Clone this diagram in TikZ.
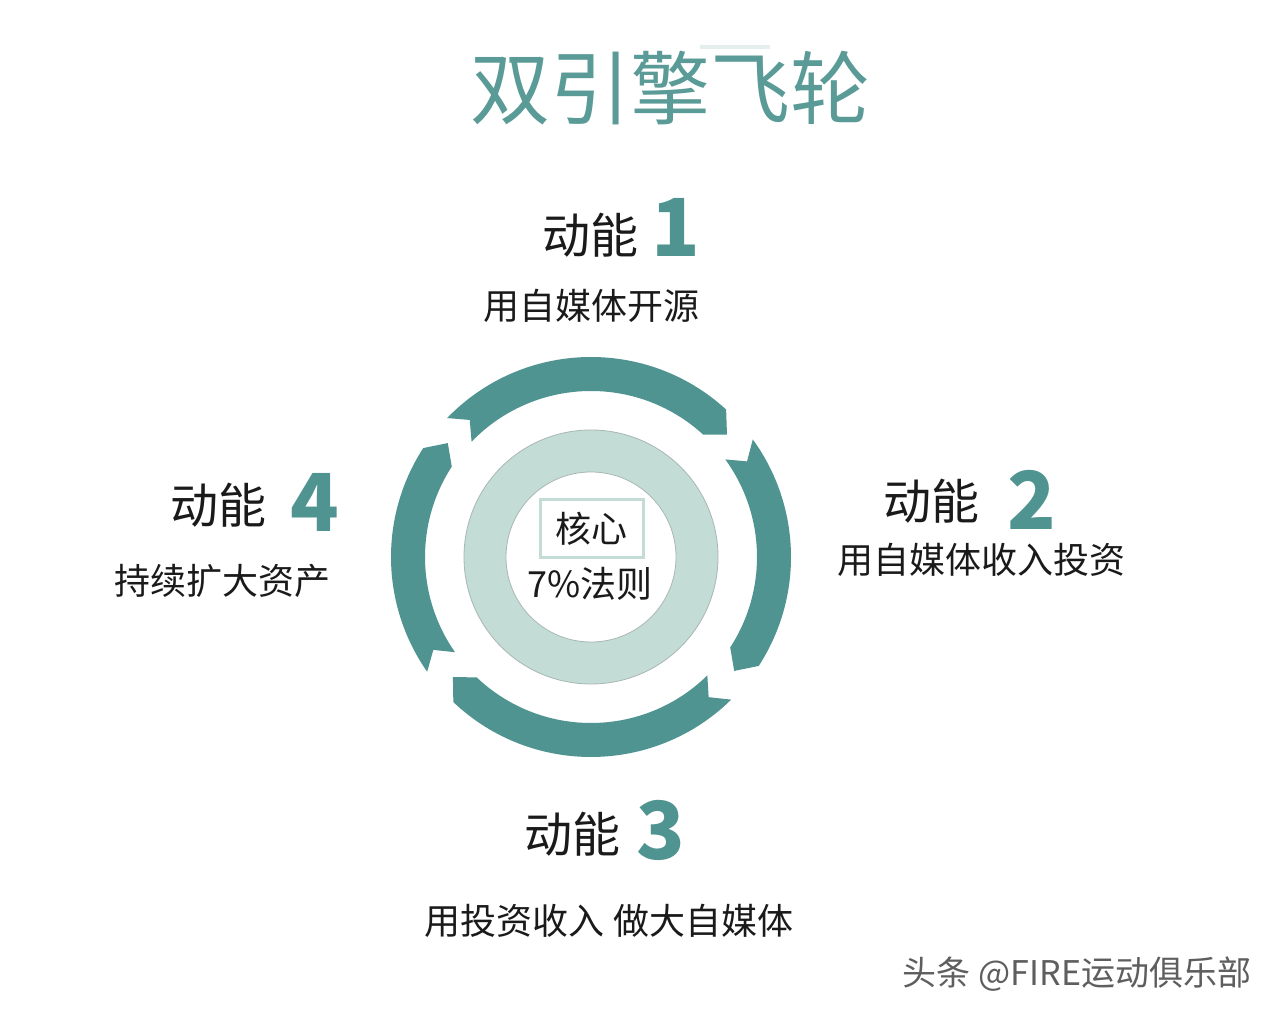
\documentclass[tikz,border=0pt]{standalone}
\usepackage{fontspec}
\setmainfont{Noto Sans CJK SC}
\usetikzlibrary{calc}
\definecolor{tealc}{HTML}{4F9490}
\definecolor{titlec}{HTML}{5A9B97}
\definecolor{ringc}{HTML}{C3DCD6}
\definecolor{ringb}{HTML}{A9B7B3}
\definecolor{txt}{HTML}{1A1A1A}
\definecolor{markc}{HTML}{5E5E5E}
\begin{document}
\begin{tikzpicture}[x=1pt,y=1pt,
  lbl/.style={inner sep=0pt, text=txt, font=\fontsize{48}{50}\selectfont},
  num/.style={inner sep=0pt, text=tealc, font=\fontsize{80}{84}\selectfont\bfseries},
  sub/.style={inner sep=0pt, text=txt, font=\fontsize{36}{40}\selectfont},
  seg/.style={fill=tealc, draw=none}]
\useasboundingbox (0,0) rectangle (1280,1020);
\fill[white] (0,0) rectangle (1280,1020);

% title
\fill[ringc!45] (700,971) rectangle (770,975);
\node[inner sep=0pt, text=titlec, font=\fontsize{80}{84}\selectfont] (title) at (670,932) {双引擎飞轮};

% flywheel
\coordinate (c) at (591,463);
\foreach \A/\B in {136/47.5, 36/-33, -45.5/-133.5, 215/147} {
  \fill[seg] ($(c)+(\A:200)$) arc[start angle=\A, end angle=\B, radius=200]
    -- ($(c)+(\B-5.5:183)$) -- ($(c)+(\B:166)$)
    arc[start angle=\B, end angle=\A, radius=166]
    -- ($(c)+(\A-4.5:183)$) -- cycle;
}
\fill[ringc, draw=ringb, line width=0.8pt] (c) circle[radius=127];
\fill[white, draw=ringb, line width=0.8pt] (c) circle[radius=85];
\node[sub, draw=ringc, line width=3pt, minimum width=103pt, minimum height=58pt] (core) at (591.5,491) {核心};
\node[sub] (rule) at (590,436) {7\%法则};

% labels
\node[lbl] (dn1) at (590,785) {动能};
\node[num] (n1) at (676,792.5) {1};
\node[sub] (s1) at (591,714) {用自媒体开源};

\node[lbl] (dn2) at (931.5,518.5) {动能};
\node[num] (n2) at (1032,520) {2};
\node[sub] (s2) at (981,460) {用自媒体收入投资};

\node[lbl] (dn3) at (572,186) {动能};
\node[num] (n3) at (661,190) {3};
\node[sub] (s3) at (609,99) {用投资收入 做大自媒体};

\node[lbl] (dn4) at (218,515) {动能};
\node[num] (n4) at (315,518) {4};
\node[sub] (s4) at (222,439) {持续扩大资产};

% watermark
\node[inner sep=0pt, text=markc, font=\fontsize{34}{36}\selectfont] (mark) at (1077,46) {头条 @FIRE运动俱乐部};
\end{tikzpicture}
\end{document}
